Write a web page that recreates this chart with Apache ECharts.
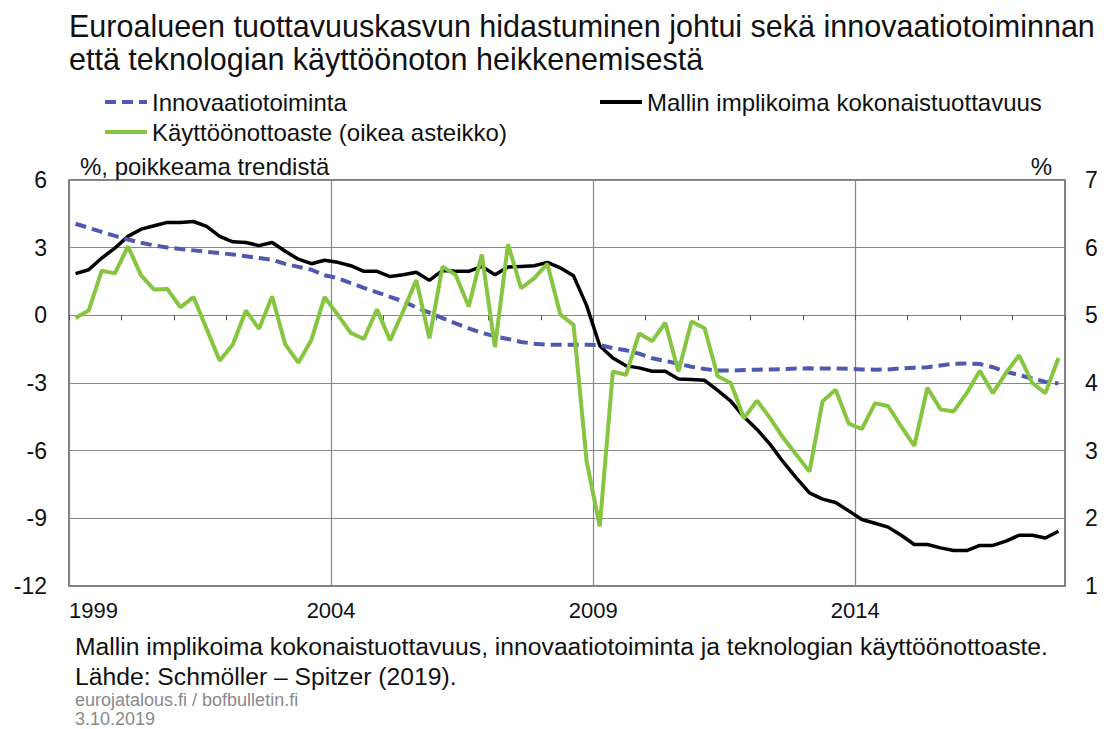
<!DOCTYPE html>
<html>
<head>
<meta charset="utf-8">
<script src="https://cdn.jsdelivr.net/npm/echarts@6/dist/echarts.min.js"></script>
<style>
html,body{margin:0;padding:0;background:#fff;}
#chart{width:1108px;height:729px;}
</style>
</head>
<body>
<div id="chart"></div>
<script>
// Quarterly data, 1999Q1 - 2017Q4
const quarters = [];
for (let y = 1999; y <= 2017; y++) for (let q = 1; q <= 4; q++) quarters.push(y + 'Q' + q);

const xTickLabels = ['1999', '2004', '2009', '2014'];

// Innovaatiotoiminta (left axis, % deviation from trend)
const innovaatio = [
  4.06, 3.88, 3.70, 3.52, 3.36, 3.22, 3.10, 3.01, 2.94, 2.88,
  2.82, 2.76, 2.70, 2.62, 2.54, 2.46, 2.28, 2.15, 2.02, 1.78,
  1.65, 1.43, 1.22, 1.02, 0.82, 0.62, 0.35, 0.12, -0.12, -0.36,
  -0.58, -0.78, -0.93, -1.05, -1.18, -1.26, -1.30, -1.30, -1.30, -1.30,
  -1.32, -1.45, -1.55, -1.70, -1.90, -2.02, -2.15, -2.28, -2.38, -2.45,
  -2.45, -2.42, -2.41, -2.40, -2.38, -2.36, -2.35, -2.36, -2.36, -2.37,
  -2.40, -2.41, -2.40, -2.35, -2.32, -2.30, -2.22, -2.15, -2.14, -2.16,
  -2.30, -2.50, -2.65, -2.80, -2.95, -3.02
];

// Mallin implikoima kokonaistuottavuus (left axis)
const kokonaistuottavuus = [
  1.85, 2.02, 2.54, 2.98, 3.50, 3.82, 3.97, 4.12, 4.12, 4.16,
  3.94, 3.50, 3.26, 3.23, 3.09, 3.23, 2.84, 2.49, 2.29, 2.44,
  2.35, 2.20, 1.95, 1.95, 1.72, 1.80, 1.91, 1.55, 1.99, 1.95,
  1.95, 2.17, 1.80, 2.14, 2.17, 2.20, 2.35, 2.10, 1.75, 0.43,
  -1.35, -1.89, -2.24, -2.33, -2.48, -2.48, -2.82, -2.85, -2.88, -3.33,
  -3.80, -4.50, -5.06, -5.72, -6.50, -7.21, -7.87, -8.15, -8.30, -8.67,
  -9.05, -9.22, -9.39, -9.75, -10.16, -10.16, -10.31, -10.43, -10.43, -10.20,
  -10.20, -10.01, -9.75, -9.75, -9.87, -9.57
];

// Käyttöönottoaste (right axis, %)
const kayttoonotto = [
  4.96, 5.07, 5.66, 5.62, 6.02, 5.59, 5.38, 5.39, 5.12, 5.27,
  4.80, 4.33, 4.57, 5.07, 4.80, 5.28, 4.57, 4.30, 4.64, 5.27,
  5.01, 4.74, 4.65, 5.09, 4.63, 5.06, 5.52, 4.66, 5.72, 5.60,
  5.13, 5.90, 4.53, 6.05, 5.40, 5.55, 5.76, 5.01, 4.86, 2.84,
  1.88, 4.17, 4.12, 4.73, 4.62, 4.89, 4.17, 4.91, 4.81, 4.10,
  4.00, 3.48, 3.74, 3.48, 3.19, 2.94, 2.69, 3.73, 3.90, 3.40,
  3.32, 3.70, 3.66, 3.36, 3.07, 3.93, 3.61, 3.58, 3.85, 4.18,
  3.85, 4.15, 4.41, 4.00, 3.85, 4.37
];

const names = {
  innov: 'Innovaatiotoiminta',
  tfp: 'Mallin implikoima kokonaistuottavuus',
  adopt: 'Käyttöönottoaste (oikea asteikko)'
};

// x position in years since 1999, at the middle of each quarter
function toXY(arr) {
  return arr.map((v, i) => [i / 4 + 0.125, v]);
}

const FONT = '"Liberation Sans", Arial, sans-serif';
const chart = echarts.init(document.getElementById('chart'), null, { renderer: 'svg' });

const legendBase = {
  orient: 'horizontal',
  itemWidth: 42,
  itemHeight: 4,
  itemGap: 10,
  lineStyle: { width: 4 },
  itemStyle: { opacity: 0 },
  textStyle: { fontFamily: FONT, fontSize: 24, color: '#111' },
  selectedMode: false
};

chart.setOption({
  animation: false,
  backgroundColor: '#fff',
  title: [{
    text: 'Euroalueen tuottavuuskasvun hidastuminen johtui sekä innovaatiotoiminnan\nettä teknologian käyttöönoton heikkenemisestä',
    left: 64, top: 4,
    textStyle: { fontFamily: FONT, fontSize: 30.5, fontWeight: 'normal', color: '#111', lineHeight: 33 }
  }],
  legend: [
    Object.assign({}, legendBase, { data: [names.innov], left: 98, top: 85 }),
    Object.assign({}, legendBase, { data: [names.tfp], left: 593, top: 85 }),
    Object.assign({}, legendBase, { data: [names.adopt], left: 98, top: 115 })
  ],
  grid: {
    left: 69, right: 43, top: 180, bottom: 143,
    show: true, borderColor: '#555', borderWidth: 1.5, backgroundColor: 'transparent'
  },
  xAxis: [{
    type: 'value', min: 0, max: 19, interval: 5,
    axisLine: { show: false, onZero: false },
    axisTick: { show: false },
    axisLabel: {
      fontFamily: FONT, fontSize: 22, color: '#111', margin: 13,
      formatter: v => (v % 5 === 0 && v < 19) ? xTickLabels[v / 5] : '',
      alignMinLabel: 'left'
    },
    splitLine: { show: true, lineStyle: { color: '#888', width: 1.2 } }
  }, {
    type: 'value', min: 0, max: 19, interval: 1,
    axisLine: { show: false, onZero: true, onZeroAxisIndex: 0 },
    axisTick: { show: true, inside: true, length: 5, lineStyle: { color: '#555', width: 1 } },
    axisLabel: { show: false },
    splitLine: { show: false }
  }],
  yAxis: [{
    type: 'value', min: -12, max: 6, interval: 3,
    axisLine: { show: false, onZero: false },
    axisTick: { show: false },
    axisLabel: { fontFamily: FONT, fontSize: 23, color: '#111', margin: 22 },
    splitLine: { show: true, lineStyle: { color: '#888', width: 1.2 } }
  }, {
    type: 'value', min: 1, max: 7, interval: 1, position: 'right',
    axisLine: { show: false, onZero: false },
    axisTick: { show: false },
    axisLabel: { fontFamily: FONT, fontSize: 23, color: '#111', margin: 20 },
    splitLine: { show: false }
  }],
  series: [{
    name: names.innov, type: 'line', xAxisIndex: 0, yAxisIndex: 0,
    data: toXY(innovaatio), symbol: 'none', showSymbol: false, z: 3,
    lineStyle: { color: '#4f59ad', width: 4, type: [11, 6] },
    itemStyle: { color: '#4f59ad' }
  }, {
    name: names.tfp, type: 'line', xAxisIndex: 0, yAxisIndex: 0,
    data: toXY(kokonaistuottavuus), symbol: 'none', showSymbol: false, z: 2,
    lineStyle: { color: '#000', width: 3.5 },
    itemStyle: { color: '#000' }
  }, {
    name: names.adopt, type: 'line', xAxisIndex: 0, yAxisIndex: 1,
    data: toXY(kayttoonotto), symbol: 'none', showSymbol: false, z: 4,
    lineStyle: { color: '#86c540', width: 4 },
    itemStyle: { color: '#86c540' }
  }],
  graphic: [
    { type: 'text', x: 80, y: 166, style: { text: '%, poikkeama trendistä', font: '24px ' + FONT, fill: '#111', textVerticalAlign: 'middle' } },
    { type: 'text', x: 1052, y: 166, style: { text: '%', font: '24px ' + FONT, fill: '#111', textAlign: 'right', textVerticalAlign: 'middle' } },
    { type: 'text', x: 75, y: 646, style: { text: 'Mallin implikoima kokonaistuottavuus, innovaatiotoiminta ja teknologian käyttöönottoaste.', font: '24.7px ' + FONT, fill: '#111', textVerticalAlign: 'middle' } },
    { type: 'text', x: 75, y: 676, style: { text: 'Lähde: Schmöller – Spitzer (2019).', font: '24.7px ' + FONT, fill: '#111', textVerticalAlign: 'middle' } },
    { type: 'text', x: 75, y: 700, style: { text: 'eurojatalous.fi / bofbulletin.fi', font: '18px ' + FONT, fill: '#8a8a8a', textVerticalAlign: 'middle' } },
    { type: 'text', x: 75, y: 719, style: { text: '3.10.2019', font: '18px ' + FONT, fill: '#8a8a8a', textVerticalAlign: 'middle' } }
  ]
});
</script>
</body>
</html>
